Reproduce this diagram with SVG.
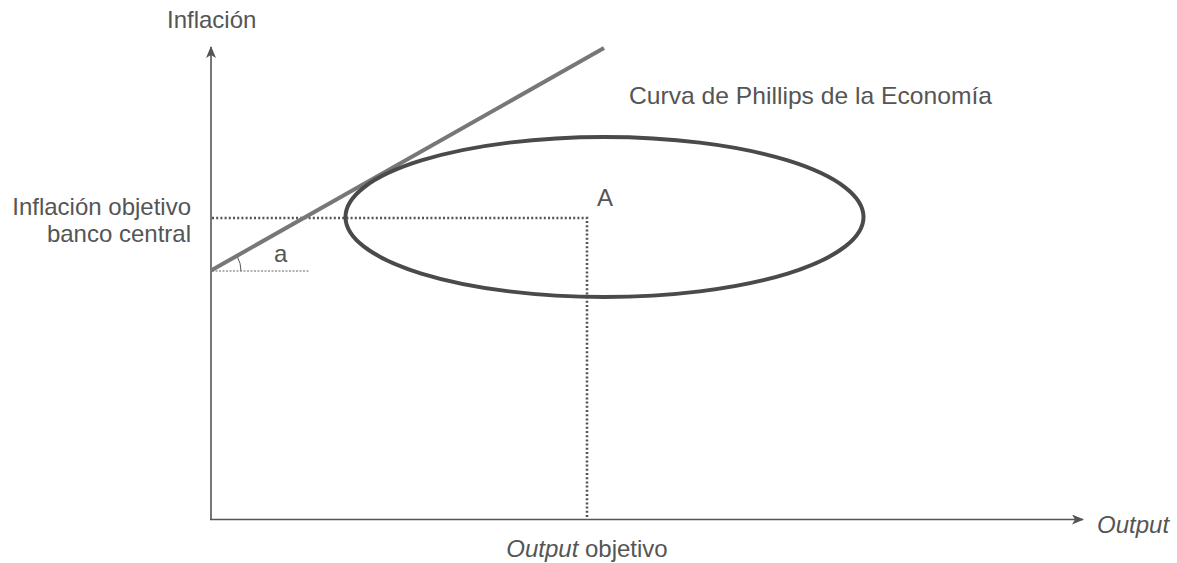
<svg xmlns="http://www.w3.org/2000/svg" width="1177" height="563" viewBox="0 0 1177 563">
<style>
text{font-family:"Liberation Sans","Helvetica",Arial,sans-serif;font-size:24px;fill:#555}
.axis{stroke:#555;stroke-width:1.6;fill:none}
.dot{stroke:#555;stroke-width:2.6;stroke-dasharray:2 2.2;fill:none}
.thin{stroke:#666;stroke-width:1.2;stroke-dasharray:2 1.5;fill:none}
</style>
<defs>
<marker id="arr" viewBox="0 0 12 10" refX="11" refY="5" markerWidth="12" markerHeight="10" markerUnits="userSpaceOnUse" orient="auto">
<path d="M0,0 L12,5 L0,10 L3,5 Z" fill="#555"/>
</marker>
</defs>
<rect width="1177" height="563" fill="#fff"/>
<g id="connectors">
<line class="axis" x1="211" y1="520" x2="211" y2="47" marker-end="url(#arr)"/>
<line class="axis" x1="210" y1="519.5" x2="1083" y2="519.5" marker-end="url(#arr)"/>
<polyline class="dot" points="212,218 587,218 587,518"/>
<line class="thin" x1="212" y1="271" x2="310" y2="271"/>
<path d="M241,271 A30,30 0 0 0 237.2,256.4" fill="none" stroke="#555" stroke-width="1"/>
</g>
<g id="phillips-line">
<line x1="211" y1="270.5" x2="604" y2="48" stroke="#777" stroke-width="4"/>
</g>
<g id="ellipse">
<ellipse cx="604.5" cy="217" rx="259" ry="80" fill="none" stroke="#4a4a4a" stroke-width="4"/>
</g>
<g id="labels">
<text x="167" y="28">Inflación</text>
<text x="629" y="104" textLength="363" lengthAdjust="spacingAndGlyphs">Curva de Phillips de la Economía</text>
<text x="597" y="206">A</text>
<text x="191" y="215" text-anchor="end">Inflación objetivo</text>
<text x="191" y="242" text-anchor="end">banco central</text>
<text x="274" y="262">a</text>
<text x="1097" y="533" font-style="italic">Output</text>
<text x="587" y="557" text-anchor="middle"><tspan font-style="italic">Output</tspan> objetivo</text>
</g>
</svg>
